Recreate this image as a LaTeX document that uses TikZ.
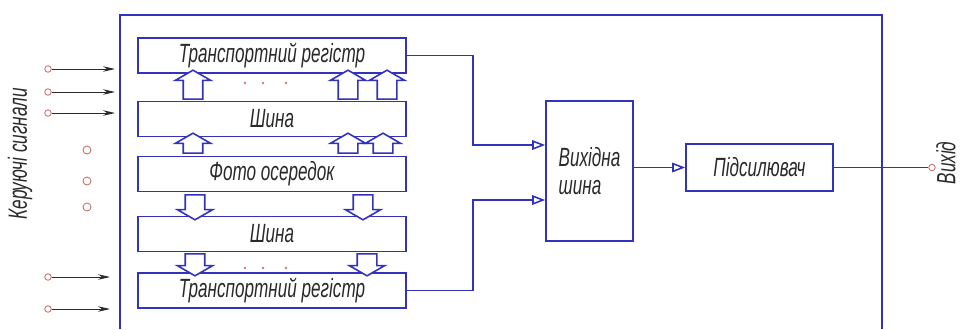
\documentclass[tikz,border=0pt]{standalone}
\usepackage{xcolor}
\usepackage{fontspec}
\usetikzlibrary{arrows.meta,positioning,calc,shapes.arrows}
\newfontfamily\gost[FakeStretch=0.65]{Liberation Sans}
\definecolor{wire}{HTML}{3232BE}
\definecolor{ink}{HTML}{2A2A2A}
\definecolor{pin}{HTML}{C87070}
\definecolor{spot}{HTML}{E86A6A}
\tikzset{
  every picture/.style={line width=0.9pt, x=0.02cm, y=-0.02cm},
  lbl/.style={text=ink, font=\gost\itshape\fontsize{15}{16}\selectfont},
  block/.style={lbl, draw=wire, fill=white, minimum width=5.36cm, minimum height=0.7cm, inner sep=2pt},
  hollow/.style={single arrow, draw=wire, fill=white, inner xsep=0pt, inner ysep=0.18cm, minimum width=0.68cm,
    single arrow head extend=0.16cm, single arrow tip angle=120},
  pinhole/.style={circle, draw=pin, line width=0.5pt, inner sep=0pt, minimum size=0.13cm},
  feed/.style={draw=wire, -{Triangle[open, length=2.6mm, width=1.9mm]}},
  ctl/.style={draw=ink, line width=0.5pt, -{Stealth[length=2.4mm, width=1.1mm]}},
}
\begin{document}
\begin{tikzpicture}
\useasboundingbox (0,0) rectangle (961,329);
\draw[wire] (120,329) -- (120,15) -- (882,15) -- (882,329);
\node[block] (reg1) at (272,55.5) {Транспортний регістр};
\node[block] (bus1) at (272,119) {Шина};
\node[block] (cell) at (272,174) {Фото осередок};
\node[block] (bus2) at (272,234) {Шина};
\node[block] (reg2) at (272,290.5) {Транспортний регістр};
\node[block, minimum width=1.74cm, minimum height=2.8cm, align=left] (out) at (589.5,171) {Вихідна\\шина};
\node[block, minimum width=2.94cm, minimum height=0.94cm] (amp) at (759.5,167.5) {Підсилювач};
\foreach \x in {193,348,387} \node[hollow, rotate=90, minimum height=0.58cm] (ua\x) at (\x,87.5) {};
\foreach \x in {193,348,383} \node[hollow, rotate=90, minimum height=0.4cm] (ub\x) at (\x,146) {};
\foreach \x in {195,363} \node[hollow, rotate=-90, minimum height=0.5cm] (da\x) at (\x,204.5) {};
\foreach \x in {195,367} \node[hollow, rotate=-90, minimum height=0.44cm] (db\x) at (\x,262) {};
\foreach \x in {245,263,286} {
  \fill[spot] (\x,83) circle (0.8pt);
  \fill[spot] (\x,268) circle (0.8pt);
}
\coordinate (in1) at (out.west |- 0,145);
\coordinate (in2) at (out.west |- 0,200);
\draw[feed] (reg1.east) -- ++(66,0) |- (in1);
\draw[feed] (reg2.east) -- ++(66,0) |- (in2);
\draw[feed] (out.east |- amp.west) -- (amp.west);
\node[pinhole] (exit) at (932,167.5) {};
\draw[wire] (amp.east) -- (exit);
\foreach \y/\e [count=\i] in {69/115,92/115,113/115,277/110,309/110} {
  \node[pinhole] (k\i) at (48,\y) {};
  \coordinate (e\i) at (\e,\y);
  \draw[ctl] (k\i) -- (e\i);
}
\foreach \y [count=\i] in {150,181,207} \node[pinhole, minimum size=0.16cm] (m\i) at (87,\y) {};
\node[lbl, rotate=90, inner sep=0pt] (sig) at (20,154) {Керуючі сигнали};
\node[lbl, rotate=90, inner sep=0pt] (vyh) at (946,163) {Вихід};
\end{tikzpicture}
\end{document}
